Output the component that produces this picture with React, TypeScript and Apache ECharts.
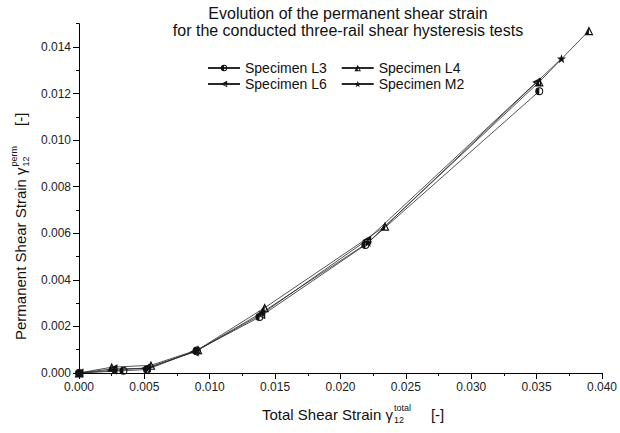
import React, { useEffect, useRef } from 'react';
import * as echarts from 'echarts';

// ---- data ----
const seriesNames = ['Specimen L3', 'Specimen L4', 'Specimen L6', 'Specimen M2'];

const dataL3 = [
  [0, 0], [0.0034, 0.0001], [0.0052, 0.00015], [0.009, 0.00097],
  [0.0138, 0.0024], [0.0219, 0.0055], [0.0352, 0.0121],
];
const dataL4 = [
  [0, 0], [0.0025, 0.00025], [0.0055, 0.00033], [0.0091, 0.001],
  [0.0142, 0.0028], [0.0234, 0.0063], [0.0352, 0.0125], [0.039, 0.0147],
];
const dataL6 = [
  [0, 0], [0.0026, 0.00018], [0.0051, 0.0002], [0.0088, 0.0009],
  [0.0139, 0.0025], [0.022, 0.0057], [0.035, 0.0125],
];
const dataM2 = [
  [0, 0], [0.0027, 0.00012], [0.0053, 0.00022], [0.009, 0.00095],
  [0.014, 0.0026], [0.0221, 0.0056], [0.0369, 0.0135],
];

const yMajorTicks = [0, 0.002, 0.004, 0.006, 0.008, 0.01, 0.012, 0.014];
const titleLines = [
  'Evolution of the permanent shear strain',
  'for the conducted three-rail shear hysteresis tests',
];

// ---- symbols ----
const SYM_HALF_CIRCLE =
  'path://M10 0A10 10 0 1 1 10 20A10 10 0 1 1 10 0ZM10 2.6A7.4 7.4 0 1 0 10 17.4A7.4 7.4 0 1 0 10 2.6ZM10 2.6A7.4 7.4 0 0 0 10 17.4Z';
const SYM_HALF_TRI_UP =
  'path://M10 0L20 20L0 20ZM10 6L4 17.4L16 17.4ZM10 6L10 17.4L4 17.4Z';
const SYM_HALF_TRI_LEFT =
  'path://M0 10L20 0L20 20ZM5.6 10L17.4 16L17.4 4ZM5.6 10L17.4 4L17.4 10Z';
const SYM_STAR =
  'path://M10 0L12.35 6.76L19.51 6.91L13.8 11.24L15.88 18.09L10 14L4.12 18.09L6.2 11.24L0.49 6.91L7.65 6.76Z';

const FONT = '"Liberation Sans", Arial, Helvetica, sans-serif';

function measure(text: string, size: number): number {
  const ctx = document.createElement('canvas').getContext('2d');
  if (!ctx) return text.length * size * 0.5;
  ctx.font = `${size}px "Liberation Sans", Arial, sans-serif`;
  return ctx.measureText(text).width;
}

// axis title laid out from its start (x = 0) along local x
function axisTitle(main: string, sup: string, sub: string, tail: string, size: number, small: number, tailGap: number) {
  const w1 = measure(main, size);
  const ws = Math.max(measure(sup, small), measure(sub, small));
  const base = { fontFamily: FONT, fill: '#111', verticalAlign: 'middle', textVerticalAlign: 'middle', align: 'left', textAlign: 'left' };
  return [
    { type: 'text', x: 0, y: 0, style: { ...base, text: main, fontSize: size } },
    { type: 'text', x: w1 + 1, y: -6, style: { ...base, text: sup, fontSize: small } },
    { type: 'text', x: w1 + 1, y: 6, style: { ...base, text: sub, fontSize: small } },
    { type: 'text', x: w1 + 1 + ws + tailGap, y: 0, style: { ...base, text: tail, fontSize: size } },
  ];
}

export default function App() {
  const ref = useRef<HTMLDivElement>(null);

  useEffect(() => {
    if (!ref.current) return;
    const chart = echarts.init(ref.current, null, { renderer: 'svg' });

    const lineStyle = { color: '#2a2a2a', width: 0.8 };
    const mk = (name: string, data: number[][], symbol: string, size: number) => ({
      name,
      type: 'line',
      data,
      symbol,
      symbolSize: size,
      showSymbol: true,
      itemStyle: { color: '#111' },
      lineStyle,
      emphasis: { disabled: true },
    });

    const legendBase = {
      itemWidth: 32,
      itemHeight: 8,
      itemGap: 14,
      padding: 0,
      textStyle: { fontSize: 14, lineHeight: 14, color: '#111', fontFamily: FONT },
      selectedMode: false,
    };

    const option: any = {
      animation: false,
      backgroundColor: '#ffffff',
      grid: { left: 79, right: 16, top: 23.7, bottom: 60 },
      xAxis: {
        type: 'value',
        min: 0,
        max: 0.04,
        interval: 0.005,
        axisLine: { show: true, lineStyle: { color: '#000', width: 1 } },
        axisTick: { show: true, length: 6, lineStyle: { color: '#000', width: 1 } },
        minorTick: { show: true, splitNumber: 2, length: 3, lineStyle: { color: '#000', width: 1 } },
        splitLine: { show: false },
        minorSplitLine: { show: false },
        axisLabel: {
          formatter: (v: number) => v.toFixed(3),
          fontSize: 12,
          color: '#222',
          fontFamily: FONT,
          margin: 8,
        },
      },
      yAxis: [
        {
          type: 'value',
          min: 0,
          max: 0.015,
          interval: 0.001,
          position: 'left',
          offset: 0,
          axisLine: { show: true, lineStyle: { color: '#000', width: 1 } },
          axisTick: { show: true, length: 3, lineStyle: { color: '#000', width: 1 } },
          axisLabel: { show: false },
          splitLine: { show: false },
        },
        {
          type: 'value',
          min: 0,
          max: 0.015,
          interval: 0.001,
          position: 'left',
          offset: 0,
          axisLine: { show: false },
          axisTick: { show: true, length: 6, customValues: yMajorTicks, lineStyle: { color: '#000', width: 1 } },
          axisLabel: {
            customValues: yMajorTicks,
            formatter: (v: number) => v.toFixed(3),
            fontSize: 12,
            color: '#222',
            fontFamily: FONT,
            margin: 8,
          },
          splitLine: { show: false },
        },
      ],
      legend: [
        { ...legendBase, data: [seriesNames[0], seriesNames[1]], left: 207, top: 61 },
        { ...legendBase, data: [seriesNames[2], seriesNames[3]], left: 207, top: 77 },
      ],
      graphic: [
        {
          type: 'text',
          x: 348,
          y: 4.5,
          style: {
            text: titleLines.join('\n'),
            fontSize: 16,
            lineHeight: 17,
            fontFamily: FONT,
            fill: '#111',
            align: 'center',
            textAlign: 'center',
            verticalAlign: 'top',
            textVerticalAlign: 'top',
          },
        },
        {
          type: 'group',
          x: 262,
          y: 414,
          children: axisTitle('Total Shear Strain \u03b3', 'total', '12', '[-]', 15, 9, 20),
        },
        {
          type: 'group',
          x: 20,
          y: 340,
          rotation: Math.PI / 2,
          children: axisTitle('Permanent Shear Strain \u03b3', 'perm', '12', '[-]', 15, 9, 20),
        },
      ],
      series: [
        mk(seriesNames[0], dataL3, SYM_HALF_CIRCLE, 8),
        mk(seriesNames[1], dataL4, SYM_HALF_TRI_UP, 9),
        mk(seriesNames[2], dataL6, SYM_HALF_TRI_LEFT, 9),
        mk(seriesNames[3], dataM2, SYM_STAR, 9),
      ],
    };

    chart.setOption(option);
    return () => chart.dispose();
  }, []);

  return (
    <div
      ref={ref}
      style={{ position: 'fixed', left: 0, top: 0, width: 620, height: 433, background: '#fff' }}
    />
  );
}
